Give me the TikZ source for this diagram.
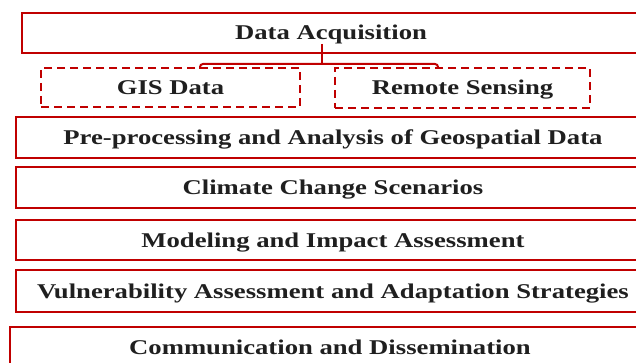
\documentclass[tikz,border=0pt]{standalone}
\usepackage{fontspec}
\setmainfont[FakeStretch=1.27]{Liberation Serif}
\usetikzlibrary{positioning}
\definecolor{flowRed}{RGB}{192,0,0}

\begin{document}
\begin{tikzpicture}[x=1pt, y=-1pt,
    stage/.style={draw=flowRed, line width=2pt, minimum height=40pt, inner sep=0pt,
      text height=14pt, text depth=0pt,
      text=black!88, font=\fontsize{21}{25}\selectfont\bfseries},
    source/.style={stage, dash pattern=on 8pt off 5pt},
    link/.style={draw=flowRed, line width=2pt, rounded corners=3pt}]
  \useasboundingbox (0,0) rectangle (636,363);
  \clip (0,0) rectangle (636,363);
  % acquisition and its two sources
  \node[stage, minimum width=618pt] (da) at (331,33) {Data Acquisition};
  \node[source, minimum width=259pt, minimum height=39pt] (gis) at (170.5,87.5) {GIS Data};
  \node[source, minimum width=255pt] (rs) at (462.5,88) {Remote Sensing};
  \draw[link] ([xshift=-9pt,yshift=10pt]da.south) -- ++(0,-20pt) coordinate (fork);
  \draw[link] ([xshift=29.5pt,yshift=-2pt]gis.north) |- (fork) -| ([xshift=-24.5pt,yshift=-2pt]rs.north);
  % remaining stages
  \node[stage, minimum width=634pt, minimum height=41pt] (pre) at (333,137.5) {Pre-processing and Analysis of Geospatial Data};
  \node[stage, minimum width=634pt, minimum height=41pt] (ccs) at (333,187.5) {Climate Change Scenarios};
  \node[stage, minimum width=634pt] (mia) at (333,240) {Modeling and Impact Assessment};
  \node[stage, minimum width=634pt, minimum height=42pt] (vaa) at (333,291) {Vulnerability Assessment and Adaptation Strategies};
  \node[stage, minimum width=640pt] (cd) at (330,347) {Communication and Dissemination};
\end{tikzpicture}
\end{document}
